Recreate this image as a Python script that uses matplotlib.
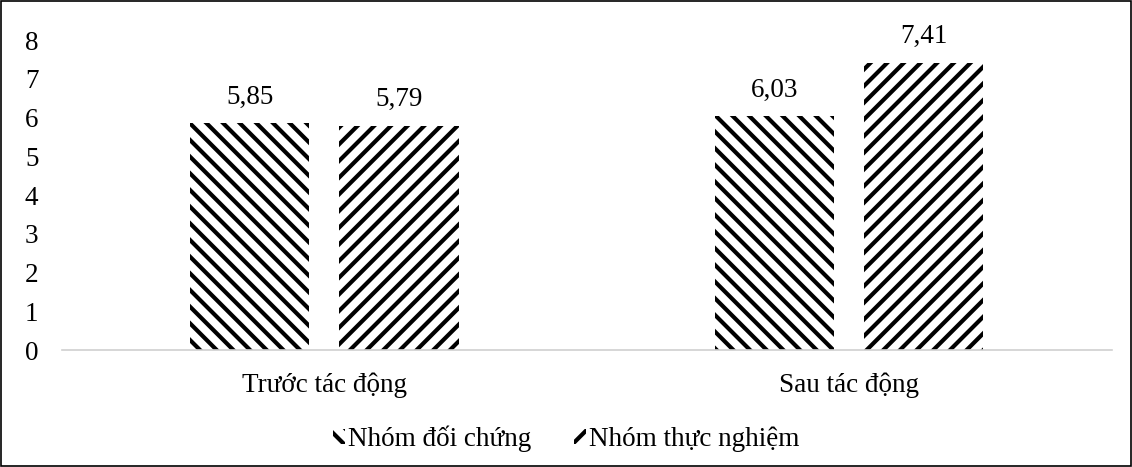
import matplotlib.pyplot as plt
import matplotlib.patches as mpatches
import numpy as np

plt.rcParams['font.family'] = ['Liberation Serif', 'DejaVu Serif']
plt.rcParams['hatch.linewidth'] = 3.0

categories = ['Trước tác động', 'Sau tác động']
series = ['Nhóm đối chứng', 'Nhóm thực nghiệm']
doi_chung = [5.85, 6.03]
thuc_nghiem = [5.79, 7.41]
yticks = [0, 1, 2, 3, 4, 5, 6, 7, 8]

fs = 19.5
fig = plt.figure(figsize=(11.32, 4.67), dpi=100)
ax = fig.add_axes([0.0548, 0.2505, 0.9272, 0.6635])

x = np.arange(len(categories))
w = 0.227
off = 0.142
b1 = ax.bar(x - off, doi_chung, w, color='white', edgecolor='black',
            linewidth=0, hatch='\\\\', label=series[0])
b2 = ax.bar(x + off, thuc_nghiem, w, color='white', edgecolor='black',
            linewidth=0, hatch='//', label=series[1])

for bars in (b1, b2):
    for r in bars:
        v = r.get_height()
        ax.annotate(f'{v:.2f}'.replace('.', ','),
                    (r.get_x() + r.get_width() / 2, v),
                    xytext=(0, 10), textcoords='offset points',
                    ha='center', va='bottom', fontsize=fs)

ax.set_xlim(-0.5, 1.5)
ax.set_ylim(0, 8)
ax.set_yticks(yticks)
ax.set_xticks(x)
ax.set_xticklabels(categories)
ax.tick_params(axis='both', length=0, labelsize=fs)
ax.tick_params(axis='y', pad=17)
ax.tick_params(axis='x', pad=16)
for s in ('top', 'right', 'left'):
    ax.spines[s].set_visible(False)
ax.spines['bottom'].set_color('#d0d0d0')
ax.spines['bottom'].set_linewidth(1.2)

fig.legend(loc='lower center', bbox_to_anchor=(0.5, -0.02), ncol=2,
           frameon=False, fontsize=fs, handlelength=0.45, handleheight=0.45,
           handletextpad=0.1, columnspacing=1.6)

fig.patches.append(mpatches.Rectangle((0.001, 0.002), 0.998, 0.996,
                                      transform=fig.transFigure, fill=False,
                                      edgecolor='black', linewidth=1.2))

fig.savefig('out.png', dpi=100)
